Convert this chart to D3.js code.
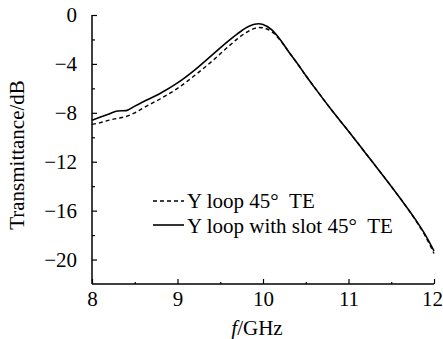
<!DOCTYPE html>
<html>
<head>
<meta charset="utf-8">
<script src="https://cdn.jsdelivr.net/npm/d3@7"></script>
<style>
  body { margin: 0; background: #fff; }
  svg text { font-family: "Liberation Serif", "Times New Roman", serif; fill: #000; }
</style>
</head>
<body>
<svg id="chart" width="443" height="339"></svg>
<script>
// frequency samples (GHz)
const freq = [8.0, 8.1, 8.2, 8.3, 8.4, 8.5, 8.6, 8.8, 9.0, 9.2, 9.4, 9.6, 9.7, 9.8, 9.9, 9.95, 10.0, 10.1, 10.2, 10.3, 10.4, 10.5, 10.6, 10.8, 11.0, 11.2, 11.4, 11.6, 11.8, 11.9, 12.0];

// Y loop 45° TE (dashed)
const yLoop = [-8.95, -8.8, -8.6, -8.45, -8.3, -8.0, -7.6, -6.85, -6.0, -4.95, -3.8, -2.55, -1.95, -1.45, -1.1, -1.02, -1.05, -1.35, -2.05, -3.0, -3.95, -4.95, -5.9, -7.75, -9.5, -11.3, -13.1, -14.95, -16.95, -18.1, -19.5];

// Y loop with slot 45° TE (solid)
const yLoopSlot = [-8.6, -8.35, -8.1, -7.85, -7.82, -7.45, -7.1, -6.4, -5.55, -4.5, -3.3, -2.1, -1.55, -1.05, -0.75, -0.72, -0.78, -1.2, -2.0, -3.0, -3.95, -4.95, -5.9, -7.75, -9.5, -11.3, -13.1, -14.95, -16.9, -18.0, -19.3];

const xTicks = [8, 9, 10, 11, 12];
const xMinor = [8.5, 9.5, 10.5, 11.5];
const yTicks = [0, -4, -8, -12, -16, -20];
const yMinor = [-2, -6, -10, -14, -18];

const legendLabels = ["Y loop 45\u00B0\u2002TE", "Y loop with slot 45\u00B0\u2002TE"];

const svg = d3.select("#chart");

const x = d3.scaleLinear().domain([8, 12]).range([92, 434]);
const y = d3.scaleLinear().domain([-22, 0]).range([284, 15]);

const fmt = d => d < 0 ? "\u2212" + Math.abs(d) : String(d);

// y axis
const yAxis = svg.append("g").attr("transform", `translate(${x(8)},0)`);
yAxis.call(d3.axisLeft(y).tickValues(yTicks).tickSize(-5).tickPadding(15).tickFormat(fmt));
yAxis.append("g").call(d3.axisLeft(y).tickValues(yMinor).tickSize(-3).tickFormat(""));
yAxis.selectAll(".domain").remove();
yAxis.append("line").attr("x1", 0).attr("x2", 0).attr("y1", y(0)).attr("y2", y(-22))
  .attr("stroke", "#000").attr("stroke-width", 1.5);

// x axis
const xAxis = svg.append("g").attr("transform", `translate(0,${y(-22)})`);
xAxis.call(d3.axisBottom(x).tickValues(xTicks).tickSize(-5).tickPadding(8).tickFormat(d3.format("d")));
xAxis.append("g").call(d3.axisBottom(x).tickValues(xMinor).tickSize(-2).tickFormat(""));
xAxis.selectAll(".domain").remove();
xAxis.append("line").attr("x1", x(8)).attr("x2", x(12)).attr("y1", 0).attr("y2", 0)
  .attr("stroke", "#000").attr("stroke-width", 1.5);

svg.selectAll(".tick line").attr("stroke", "#000").attr("stroke-width", 1.2);
svg.selectAll(".tick text").attr("font-size", 21).attr("font-family", "Liberation Serif, serif").attr("fill", "#000");
xAxis.selectAll(".tick text").attr("dy", "0.68em");
// last label sits right at the edge, nudge it in
xAxis.selectAll(".tick text").filter(d => d === 12).attr("dx", -2);

// axis titles
svg.append("text")
  .attr("transform", `translate(24,155) rotate(-90)`)
  .attr("text-anchor", "middle")
  .attr("font-size", 21)
  .text("Transmittance/dB");

const xt = svg.append("text").attr("x", 257).attr("y", 335).attr("text-anchor", "middle").attr("font-size", 21);
xt.append("tspan").attr("font-style", "italic").text("f");
xt.append("tspan").text("/GHz");

// curves
const line = d3.line().x(d => x(d[0])).y(d => y(d[1])).curve(d3.curveMonotoneX);

svg.append("path")
  .datum(d3.zip(freq, yLoop))
  .attr("fill", "none").attr("stroke", "#000").attr("stroke-width", 1.4)
  .attr("stroke-dasharray", "4,3")
  .attr("d", line);

svg.append("path")
  .datum(d3.zip(freq, yLoopSlot))
  .attr("fill", "none").attr("stroke", "#000").attr("stroke-width", 1.6)
  .attr("d", line);

// legend
const legend = svg.append("g");
const rows = [{ dash: "4,3", y: 201, ty: 208 }, { dash: null, y: 225, ty: 233 }];
rows.forEach((r, i) => {
  legend.append("line")
    .attr("x1", 153).attr("x2", 184).attr("y1", r.y).attr("y2", r.y)
    .attr("stroke", "#000").attr("stroke-width", i ? 1.6 : 1.4)
    .attr("stroke-dasharray", r.dash);
  legend.append("text").attr("x", 187).attr("y", r.ty).attr("font-size", 21).text(legendLabels[i]);
});
</script>
</body>
</html>
